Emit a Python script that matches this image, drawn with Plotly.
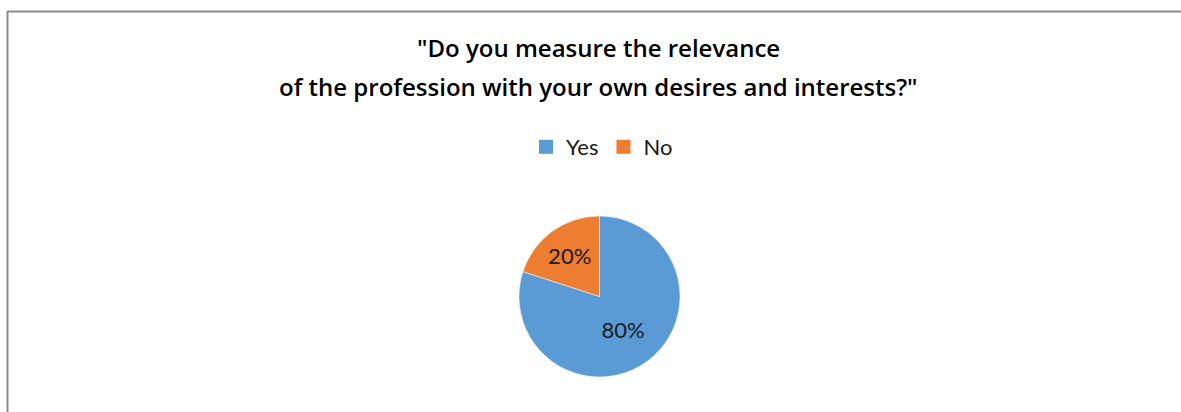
import plotly.graph_objects as go

categories = ["Yes", "No"]
values = [80, 20]
colors = ["#5B9BD5", "#ED7D31"]
title_lines = ['"Do you measure the relevance', 'of the profession with your own desires and interests?"']

W, H = 1181, 412
cx, cy, r = 599.5, 296.5, 80.5
FONT = "Lato"

fig = go.Figure()
fig.add_trace(go.Pie(
    labels=categories, values=values,
    marker=dict(colors=colors, line=dict(color="white", width=0.5)),
    sort=False, direction="clockwise", rotation=0,
    textinfo="percent", texttemplate="%{percent:.0%}",
    textposition="inside", insidetextorientation="horizontal",
    textfont=dict(family=FONT, size=22, color="#1a1a1a"),
    domain=dict(x=[(cx - r) / W, (cx + r) / W], y=[(H - cy - r) / H, (H - cy + r) / H]),
    showlegend=False, hoverinfo="label+percent",
))
# legend entries (square swatches) for the categories
for cat, col in zip(categories, colors):
    fig.add_trace(go.Scatter(
        x=[None], y=[None], mode="markers", name=cat,
        marker=dict(symbol="square", size=14, color=col),
        showlegend=True, hoverinfo="skip",
    ))

annotations = []
for i, line in enumerate(title_lines):
    annotations.append(dict(
        text=line, x=598 / W, y=1 - (48 + 38 * i) / H, xref="paper", yref="paper",
        xanchor="center", yanchor="middle", showarrow=False,
        font=dict(family="Open Sans", size=24, color="#000000", weight=600),
    ))

fig.update_layout(
    width=W, height=H,
    margin=dict(l=0, r=0, t=0, b=0),
    paper_bgcolor="white", plot_bgcolor="white",
    xaxis=dict(visible=False), yaxis=dict(visible=False),
    annotations=annotations,
    legend=dict(orientation="h", x=602 / W, y=1 - 147 / H, xanchor="center", yanchor="middle",
                font=dict(family=FONT, size=22, color="#1a1a1a"),
                itemsizing="trace", traceorder="normal", tracegroupgap=0),
    shapes=[
        dict(type="line", xref="paper", yref="paper", x0=7.5 / W, x1=7.5 / W, y0=0, y1=1 - 11 / H,
             line=dict(color="#8c8c8c", width=2)),
        dict(type="line", xref="paper", yref="paper", x0=7.5 / W, x1=1, y0=1 - 11.5 / H, y1=1 - 11.5 / H,
             line=dict(color="#8c8c8c", width=2)),
    ],
)

fig.write_html("out.html", config={"displayModeBar": False},
               post_script="document.body.style.margin='0';document.body.style.overflow='hidden';")
